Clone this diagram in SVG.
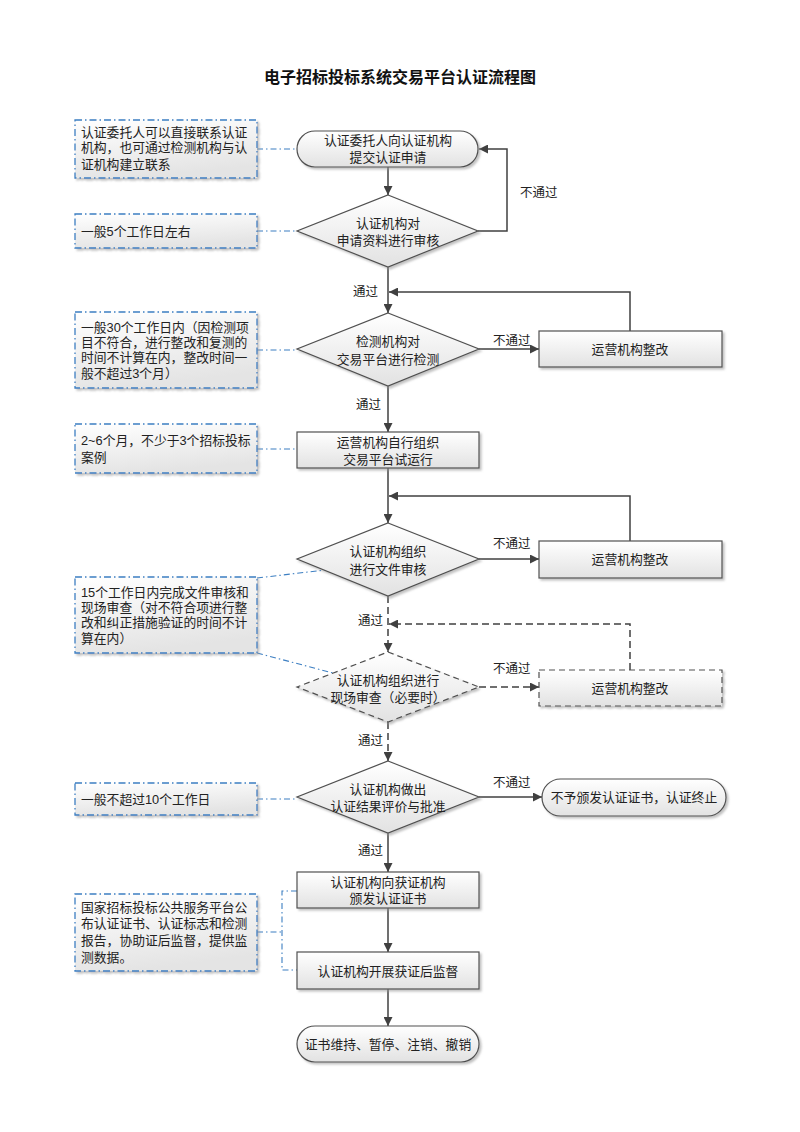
<svg xmlns="http://www.w3.org/2000/svg" width="800" height="1132" viewBox="0 0 800 1132">
<style>
text{font-family:"Liberation Sans","Noto Sans CJK SC",sans-serif;fill:#222;}
.t{font-size:12.8px;text-anchor:middle;}
.n{font-size:12.8px;}
.lb{font-size:12.5px;}
.title{font-size:16px;font-weight:bold;text-anchor:middle;fill:#111;}
.node{fill:url(#g);stroke:#505050;stroke-width:1.2;filter:url(#sh);}
.dnode{fill:url(#g);stroke:#505050;stroke-width:1.2;stroke-dasharray:6,4;filter:url(#sh);}
.note{fill:url(#gn);stroke:#3d7fc2;stroke-width:1.3;stroke-dasharray:7,3,1.5,3;filter:url(#sh);}
.c{fill:none;stroke:#404040;stroke-width:1.5;}
.cd{fill:none;stroke:#404040;stroke-width:1.5;stroke-dasharray:7,4;}
.nc{fill:none;stroke:#3d7fc2;stroke-width:1.1;stroke-dasharray:6,3,1.5,3;}
</style>
<defs>
<linearGradient id="g" x1="0" y1="0" x2="0" y2="1"><stop offset="0" stop-color="#ffffff"/><stop offset="1" stop-color="#e2e2e2"/></linearGradient>
<linearGradient id="gn" x1="0" y1="0" x2="0.3" y2="1"><stop offset="0" stop-color="#ffffff"/><stop offset="1" stop-color="#e4e4e4"/></linearGradient>
<filter id="sh" x="-10%" y="-10%" width="130%" height="140%"><feDropShadow dx="2" dy="2" stdDeviation="0.8" flood-color="#9a9a9a" flood-opacity="0.6"/></filter>
<marker id="a" viewBox="0 0 10 10" refX="10" refY="5" markerWidth="9" markerHeight="9" markerUnits="userSpaceOnUse" orient="auto"><path d="M0,0 L10,5 L0,10 z" fill="#404040"/></marker>
</defs>
<rect width="800" height="1132" fill="#fff"/>
<text class="title" x="400" y="83">电子招标投标系统交易平台认证流程图</text>

<g id="connectors">
<path class="c" d="M388,167 V195" marker-end="url(#a)"/>
<path class="c" d="M478,231 H507 V149 H479" marker-end="url(#a)"/>
<path class="c" d="M388,267 V313" marker-end="url(#a)"/>
<path class="c" d="M630,331 V292 H389" marker-end="url(#a)"/>
<path class="c" d="M479,349 H539" marker-end="url(#a)"/>
<path class="c" d="M388,386 V432" marker-end="url(#a)"/>
<path class="c" d="M388,468 V523" marker-end="url(#a)"/>
<path class="c" d="M630,541 V496 H389" marker-end="url(#a)"/>
<path class="c" d="M479,559 H539" marker-end="url(#a)"/>
<path class="cd" d="M388,596 V652" marker-end="url(#a)"/>
<path class="cd" d="M630,670 V624 H389" marker-end="url(#a)"/>
<path class="cd" d="M479,687 H539" marker-end="url(#a)"/>
<path class="cd" d="M388,722 V761" marker-end="url(#a)"/>
<path class="c" d="M479,797 H542" marker-end="url(#a)"/>
<path class="c" d="M388,833 V872" marker-end="url(#a)"/>
<path class="c" d="M388,908 V952" marker-end="url(#a)"/>
<path class="c" d="M388,989 V1026" marker-end="url(#a)"/>
<path class="nc" d="M257,149 H297"/>
<path class="nc" d="M257,231 H297"/>
<path class="nc" d="M257,350 H297"/>
<path class="nc" d="M257,449 H297"/>
<path class="nc" d="M257,578 L325,570"/>
<path class="nc" d="M257,653 L333,673"/>
<path class="nc" d="M257,799 H297"/>
<path class="nc" d="M257,932 H282 M297,891 H282 V970 H297"/>
<text class="lb" x="520" y="197">不通过</text>
<text class="lb" x="353" y="296">通过</text>
<text class="lb" x="493" y="345">不通过</text>
<text class="lb" x="356" y="409">通过</text>
<text class="lb" x="493" y="548">不通过</text>
<text class="lb" x="358" y="625">通过</text>
<text class="lb" x="493" y="673">不通过</text>
<text class="lb" x="358" y="745">通过</text>
<text class="lb" x="493" y="787">不通过</text>
<text class="lb" x="358" y="855">通过</text>
</g>

<g id="n1"><rect class="node" x="297" y="131" width="181" height="36" rx="18"/><text class="t" x="388" y="144.5">认证委托人向认证机构</text><text class="t" x="388" y="161.5">提交认证申请</text></g>
<g id="n2"><polygon class="node" points="388,195 478,231 388,267 297,231"/><text class="t" x="388" y="227.5">认证机构对</text><text class="t" x="388" y="244.5">申请资料进行审核</text></g>
<g id="n3"><polygon class="node" points="388,313 479,349 388,386 297,349"/><text class="t" x="388" y="345.5">检测机构对</text><text class="t" x="388" y="363.5">交易平台进行检测</text></g>
<g id="n4"><rect class="node" x="539" y="331" width="183" height="36"/><text class="t" x="630" y="353.5">运营机构整改</text></g>
<g id="n5"><rect class="node" x="297" y="432" width="182" height="36"/><text class="t" x="388" y="446.5">运营机构自行组织</text><text class="t" x="388" y="463.5">交易平台试运行</text></g>
<g id="n6"><polygon class="node" points="388,523 479,559 388,596 297,559"/><text class="t" x="388" y="555.5">认证机构组织</text><text class="t" x="388" y="573.5">进行文件审核</text></g>
<g id="n7"><rect class="node" x="539" y="541" width="183" height="37"/><text class="t" x="630" y="564">运营机构整改</text></g>
<g id="n8"><polygon class="dnode" points="388,652 479,687 388,722 297,687"/><text class="t" x="388" y="684.5">认证机构组织进行</text><text class="t" x="388" y="701.5">现场审查（必要时）</text></g>
<g id="n9"><rect class="dnode" x="539" y="670" width="183" height="36"/><text class="t" x="630" y="692.5">运营机构整改</text></g>
<g id="n10"><polygon class="node" points="388,761 479,797 388,833 297,797"/><text class="t" x="388" y="793.5">认证机构做出</text><text class="t" x="388" y="810.5">认证结果评价与批准</text></g>
<g id="n11"><rect class="node" x="542" y="779" width="184" height="37" rx="18.5"/><text class="t" x="634" y="801.5">不予颁发认证证书，认证终止</text></g>
<g id="n12"><rect class="node" x="297" y="872" width="182" height="36"/><text class="t" x="388" y="886.5">认证机构向获证机构</text><text class="t" x="388" y="902.5">颁发认证证书</text></g>
<g id="n13"><rect class="node" x="297" y="952" width="182" height="37"/><text class="t" x="388" y="975.5">认证机构开展获证后监督</text></g>
<g id="n14"><rect class="node" x="297" y="1026" width="182" height="36" rx="18"/><text class="t" x="388" y="1048.5">证书维持、暂停、注销、撤销</text></g>

<g id="note1"><rect class="note" x="75" y="120" width="182" height="58"/><text class="n" x="81" y="136.5">认证委托人可以直接联系认证</text><text class="n" x="81" y="152">机构，也可通过检测机构与认</text><text class="n" x="81" y="168.5">证机构建立联系</text></g>
<g id="note2"><rect class="note" x="75" y="214" width="182" height="34"/><text class="n" x="81" y="235.5">一般5个工作日左右</text></g>
<g id="note3"><rect class="note" x="75" y="312" width="182" height="76"/><text class="n" x="81" y="331.5">一般30个工作日内（因检测项</text><text class="n" x="81" y="346.5">目不符合，进行整改和复测的</text><text class="n" x="81" y="361.5">时间不计算在内，整改时间一</text><text class="n" x="81" y="377.5">般不超过3个月）</text></g>
<g id="note4"><rect class="note" x="75" y="424" width="182" height="49"/><text class="n" x="81" y="444.5">2~6个月，不少于3个招标投标</text><text class="n" x="81" y="461.5">案例</text></g>
<g id="note5"><rect class="note" x="75" y="577" width="182" height="76"/><text class="n" x="81" y="596.5">15个工作日内完成文件审核和</text><text class="n" x="81" y="611.5">现场审查（对不符合项进行整</text><text class="n" x="81" y="626.5">改和纠正措施验证的时间不计</text><text class="n" x="81" y="642.5">算在内）</text></g>
<g id="note6"><rect class="note" x="75" y="783" width="182" height="32"/><text class="n" x="81" y="803.5">一般不超过10个工作日</text></g>
<g id="note7"><rect class="note" x="75" y="894" width="182" height="77"/><text class="n" x="81" y="911.5">国家招标投标公共服务平台公</text><text class="n" x="81" y="927.5">布认证证书、认证标志和检测</text><text class="n" x="81" y="944.5">报告，协助证后监督，提供监</text><text class="n" x="81" y="961.5">测数据。</text></g>
</svg>
